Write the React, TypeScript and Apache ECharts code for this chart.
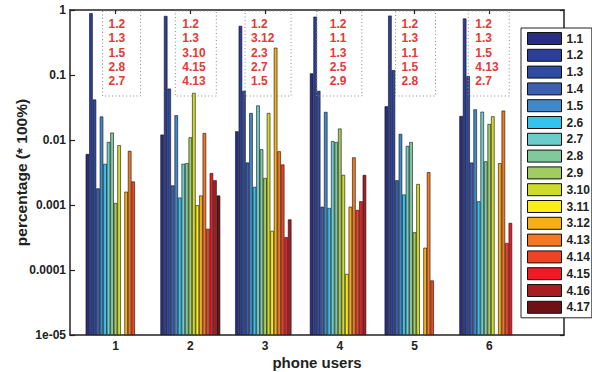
import React, { useEffect, useRef } from 'react';
import * as echarts from 'echarts';

const FONT = '"Liberation Sans", Arial, Helvetica, sans-serif';

// categories (phone users)
const groups = [1, 2, 3, 4, 5, 6];
const yTickLabels = ['1e-05', '0.0001', '0.001', '0.01', '0.1', '1'];
const seriesNames = ['1.1', '1.2', '1.3', '1.4', '1.5', '2.6', '2.7', '2.8', '2.9', '3.10', '3.11', '3.12', '4.13', '4.14', '4.15', '4.16', '4.17'];
const seriesColors = ['#2a2d82', '#2c3e9b', '#2f4aa3', '#3d5fb1', '#3f88c9', '#34c3ef', '#6ccccb', '#80c99a', '#a1cc60', '#cedb2a', '#fcee10', '#f9ad18', '#f47721', '#ef4423', '#ec1c24', '#a91c21', '#6c1214'];

// percentage values per series, one per phone-user group (null = no bar)
const s1_1 = [0.0061, 0.0121, 0.0136, 0.106, 0.033, 0.0234];
const s1_2 = [0.89, 0.81, 0.57, 0.79, 0.82, 0.74];
const s1_3 = [0.042, 0.0617, 0.057, 0.057, 0.119, 0.0966];
const s1_4 = [0.0018, 0.002, 0.0045, 0.00094, 0.0024, 0.0045];
const s1_5 = [0.023, 0.024, 0.026, 0.027, 0.0124, 0.0296];
const s2_6 = [0.0043, 0.0013, 0.0019, 0.0009, 0.00145, 0.00114];
const s2_7 = [0.0093, 0.0043, 0.034, 0.0096, 0.0081, 0.0272];
const s2_8 = [0.013, 0.0044, 0.0072, 0.0093, 0.0093, 0.0047];
const s2_9 = [0.00107, 0.011, 0.0026, 0.015, 0.00038, 0.0176];
const s3_10 = [0.0083, 0.053, 0.026, 0.0029, 0.0021, 0.0231];
const s3_11 = [null, 0.00099, 0.0004, 0.000087, null, null];
const s3_12 = [0.0016, 0.0014, 0.263, 0.00094, 0.00022, 0.0044];
const s4_13 = [0.0068, 0.0128, 0.0067, 0.0054, 0.0032, 0.0283];
const s4_14 = [0.0023, 0.00043, 0.0042, 0.00084, 0.000069, 0.00026];
const s4_15 = [null, 0.0031, 0.00032, 0.00114, null, 0.00053];
const s4_16 = [null, 0.0024, 0.0006, 0.0029, null, null];
const s4_17 = [null, 0.0014, null, null, null, null];

const seriesValues = [s1_1, s1_2, s1_3, s1_4, s1_5, s2_6, s2_7, s2_8, s2_9, s3_10, s3_11, s3_12, s4_13, s4_14, s4_15, s4_16, s4_17];

// annotation texts per group
const annot1 = ['1.2', '1.3', '1.5', '2.8', '2.7'];
const annot2 = ['1.2', '1.3', '3.10', '4.15', '4.13'];
const annot3 = ['1.2', '3.12', '2.3', '2.7', '1.5'];
const annot4 = ['1.2', '1.1', '1.3', '2.5', '2.9'];
const annot5 = ['1.2', '1.3', '1.1', '1.5', '2.8'];
const annot6 = ['1.2', '1.3', '1.5', '4.13', '2.7'];
const annotations = [annot1, annot2, annot3, annot4, annot5, annot6];

// annotation box layout (pixel offsets relative to group centre)
const boxLeftOff = [-13, -15, -20, -23, -19, -21];
const boxRightOff = [25, 26, 26, 22, 21, 20];
const textLeftOff = [-7, -8, -14, -10, -13, -14];

const LOG_MIN = -5;

export default function App() {
  const ref = useRef<HTMLDivElement>(null);

  useEffect(() => {
    if (!ref.current) return;
    const chart = echarts.init(ref.current, null, { renderer: 'svg' });
    const axisColor = '#222';
    const labelStyle = { color: axisColor, fontWeight: 'bold' as const, fontSize: 12, fontFamily: FONT };

    const option: any = {
      animation: false,
      textStyle: { fontFamily: FONT },
      grid: { left: 70, top: 10, right: 28, bottom: 37, containLabel: false, outerBoundsMode: 'none' },
      xAxis: [
        {
          type: 'value',
          min: 0.39,
          max: 7,
          axisLine: { show: true, onZero: false, lineStyle: { color: axisColor, width: 1.5 } },
          axisTick: { show: true, inside: true, length: 5, customValues: groups, lineStyle: { color: axisColor, width: 1.2 } },
          axisLabel: { ...labelStyle, margin: 5, customValues: groups, formatter: (v: number) => String(v) },
          splitLine: { show: false },
          name: 'phone users',
          nameLocation: 'middle',
          nameGap: 20,
          nameMoveOverlap: false,
          nameTextStyle: { color: axisColor, fontWeight: 'bold', fontSize: 15, fontFamily: FONT },
        },
        {
          type: 'value',
          position: 'top',
          min: 0.39,
          max: 7,
          axisLine: { show: true, onZero: false, lineStyle: { color: axisColor, width: 1.5 } },
          axisTick: { show: true, inside: true, length: 4, customValues: groups, lineStyle: { color: axisColor, width: 1.2 } },
          axisLabel: { show: false },
          splitLine: { show: false },
        },
      ],
      yAxis: [
        {
          type: 'value',
          min: 0,
          max: 5,
          interval: 1,
          axisLine: { show: true, onZero: false, lineStyle: { color: axisColor, width: 1.5 } },
          axisTick: { show: true, inside: true, length: 5, lineStyle: { color: axisColor, width: 1.2 } },
          axisLabel: { ...labelStyle, margin: 4, formatter: (v: number) => yTickLabels[Math.round(v)] },
          splitLine: { show: false },
          name: 'percentage (* 100%)',
          nameLocation: 'middle',
          nameRotate: 90,
          nameGap: 41,
          nameMoveOverlap: false,
          nameTextStyle: { color: axisColor, fontWeight: 'bold', fontSize: 15.5, fontFamily: FONT },
        },
        {
          type: 'value',
          position: 'right',
          min: 0,
          max: 5,
          interval: 1,
          axisLine: { show: true, onZero: false, lineStyle: { color: axisColor, width: 1.5 } },
          axisTick: { show: true, inside: true, length: 4, lineStyle: { color: axisColor, width: 1.2 } },
          axisLabel: { show: false },
          splitLine: { show: false },
        },
      ],
      legend: {
        orient: 'vertical',
        left: 521,
        top: 28,
        backgroundColor: '#fff',
        borderColor: axisColor,
        borderWidth: 1,
        padding: [4, 2, 4, 6],
        itemWidth: 34,
        itemHeight: 12,
        itemGap: 3.8,
        selectedMode: false,
        icon: 'rect',
        itemStyle: { borderColor: '#111', borderWidth: 1 },
        textStyle: { color: axisColor, fontWeight: 'bold', fontSize: 12, fontFamily: FONT, lineHeight: 12 },
        data: seriesNames,
        z: 10,
      },
      series: seriesNames.map((name, i) => ({
        type: 'bar',
        name,
        xAxisIndex: 0,
        yAxisIndex: 0,
        barWidth: 3.52,
        barGap: '0%',
        itemStyle: { color: seriesColors[i], borderColor: '#111', borderWidth: 0.6 },
        data: groups.map((g, j) => {
          const v = seriesValues[i][j];
          return [g, v == null ? '-' : Math.log10(v) - LOG_MIN];
        }),
      })),
    };
    chart.setOption(option);

    const graphics: any[] = [];
    const boxTop = 11;
    const boxBottom = 96;
    annotations.forEach((lines, gi) => {
      const cx = chart.convertToPixel({ xAxisIndex: 0 }, groups[gi]) as number;
      graphics.push({
        type: 'rect',
        silent: true,
        z: 3,
        shape: { x: cx + boxLeftOff[gi], y: boxTop, width: boxRightOff[gi] - boxLeftOff[gi], height: boxBottom - boxTop },
        style: { fill: 'none', stroke: '#8a8a8a', lineWidth: 1, lineDash: [1, 2.5] },
      });
      graphics.push({
        type: 'text',
        silent: true,
        z: 4,
        x: cx + textLeftOff[gi],
        y: 16.5,
        style: {
          text: lines.join('\n'),
          fill: '#e53935',
          font: `bold 12px ${FONT}`,
          lineHeight: 14.4,
          verticalAlign: 'top',
          align: 'left',
        },
      });
    });
    chart.setOption({ graphic: graphics });

    return () => chart.dispose();
  }, []);

  return <div ref={ref} style={{ position: 'absolute', left: 0, top: 0, width: 592, height: 372 }} />;
}
